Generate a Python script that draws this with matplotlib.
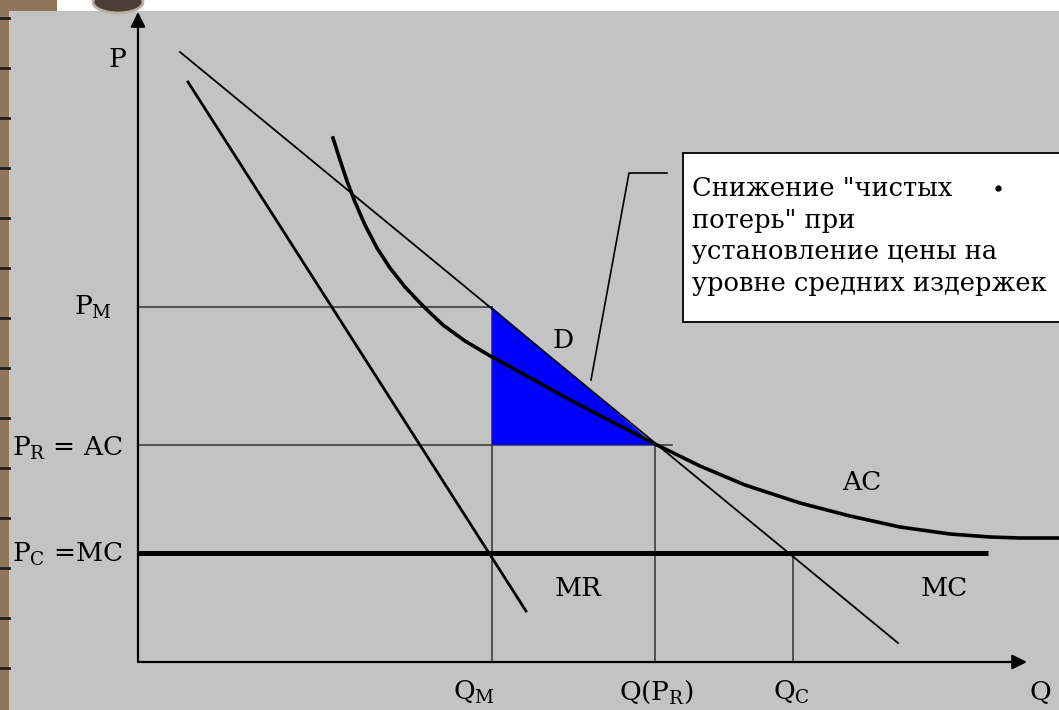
import numpy as np
import matplotlib
matplotlib.use("Agg")
import matplotlib.pyplot as plt
from matplotlib.patches import Rectangle, Ellipse, Polygon

plt.rcParams['font.family'] = ['DejaVu Serif']
plt.rcParams['mathtext.fontset'] = 'dejavuserif'

# demand and marginal revenue (straight lines, end points)
demand_q = [4.2, 76.0]
demand_p = [61.0, 1.9]
mr_q = [5.0, 38.8]
mr_p = [58.0, 5.1]

# average cost curve
ac_q = [19.5, 20.2, 20.9, 21.7, 22.7, 23.9, 25.2, 26.7, 28.5, 30.5, 32.7, 35.4, 39.2,
        43.2, 47.2, 51.7, 56.2, 60.7, 66.2, 71.2, 76.2, 81.2, 85.2, 88.2, 92.1]
ac_p = [52.4, 50.2, 48.1, 46.0, 43.7, 41.4, 39.4, 37.5, 35.6, 33.7, 32.1, 30.5, 28.4,
        26.2, 24.1, 21.8, 19.6, 17.7, 15.9, 14.6, 13.5, 12.8, 12.5, 12.4, 12.4]

# key levels
p_m, p_r, p_c = 35.5, 21.7, 10.9
q_m, q_r, q_c = 35.4, 51.7, 65.5
mc_end = 85.0
pr_end = 53.4
q_axis_end, p_axis_end = 88.9, 65.0

note_lines = ['Снижение "чистых',
              'потерь" при',
              'установление цены на',
              'уровне средних издержек']

fig = plt.figure(figsize=(10.59, 7.10), dpi=100)
fig.patch.set_facecolor('#c3c3c3')

# frame decoration: white strip on top, brown ruler on the left
W, H = 1059, 710
fig.patches.append(Rectangle((0, 1 - 11 / H), 1, 11 / H, transform=fig.transFigure,
                             facecolor='white', edgecolor='none', zorder=0))
fig.patches.append(Rectangle((0, 0), 9 / W, 1, transform=fig.transFigure,
                             facecolor='#8f7559', edgecolor='none', zorder=0))
fig.patches.append(Rectangle((0, 1 - 11 / H), 57 / W, 11 / H, transform=fig.transFigure,
                             facecolor='#8f7559', edgecolor='none', zorder=0))
fig.patches.append(Ellipse((118 / W, 1 - 2 / H), 50 / W, 22 / H, transform=fig.transFigure,
                           facecolor='#4a4036', edgecolor='#b8b0a0', lw=2, zorder=0))
for yy in np.arange(18, H, 50):
    fig.lines.append(plt.Line2D([0, 9 / W], [1 - yy / H, 1 - yy / H], transform=fig.transFigure,
                                color='#1e1e1e', lw=2))

ax = fig.add_axes([0, 0, 1, 1])
ax.set_xlim(-13.8, 92.1)
ax.set_ylim(-4.8, 66.2)
ax.axis('off')

# shaded triangle
ax.add_patch(Polygon([[q_m, p_m], [q_m, p_r], [q_r, p_r]], closed=True,
                     facecolor='#0000ff', edgecolor='none', zorder=2))

# guide lines
g = dict(color='#333333', lw=1.1, zorder=1)
ax.plot([0, q_m], [p_m, p_m], **g)
ax.plot([0, pr_end], [p_r, p_r], **g)
ax.plot([q_m, q_m], [0, p_m], **g)
ax.plot([q_r, q_r], [0, p_r], **g)
ax.plot([q_c, q_c], [0, p_c], **g)

# curves
ax.plot(demand_q, demand_p, color='black', lw=1.3, zorder=3)
ax.plot(mr_q, mr_p, color='black', lw=2.0, zorder=3)
ax.plot(ac_q, ac_p, color='black', lw=2.6, zorder=3, solid_joinstyle='round')
ax.plot([0, mc_end], [p_c, p_c], color='black', lw=3.6, zorder=3, solid_capstyle='butt')

# axes with arrows
ax.annotate('', xy=(0, p_axis_end), xytext=(0, 0),
            arrowprops=dict(arrowstyle='-|>', color='black', lw=1.6, mutation_scale=22,
                            shrinkA=0, shrinkB=0), zorder=4)
ax.annotate('', xy=(q_axis_end, 0), xytext=(0, 0),
            arrowprops=dict(arrowstyle='-|>', color='black', lw=1.6, mutation_scale=22,
                            shrinkA=0, shrinkB=0), zorder=4)

fs = 19
ax.text(-2.1, 59.5, 'P', fontsize=fs, ha='center', va='baseline')
ax.text(-2.6, 34.7, r'P$_\mathregular{M}$', fontsize=fs, ha='right', va='baseline')
ax.text(-12.6, 20.6, r'P$_\mathregular{R}$ = AC', fontsize=fs, ha='left', va='baseline')
ax.text(-12.6, 10.0, r'P$_\mathregular{C}$ =MC', fontsize=fs, ha='left', va='baseline')

ax.text(33.6, -3.8, r'Q$_\mathregular{M}$', fontsize=fs, ha='center', va='baseline')
ax.text(51.8, -3.8, r'Q(P$_\mathregular{R}$)', fontsize=fs, ha='center', va='baseline')
ax.text(65.3, -3.8, r'Q$_\mathregular{C}$', fontsize=fs, ha='center', va='baseline')
ax.text(90.2, -3.8, 'Q', fontsize=fs, ha='center', va='baseline')

ax.text(42.5, 32.2, 'D', fontsize=fs, ha='center', va='center')
ax.text(72.4, 17.9, 'AC', fontsize=fs, ha='center', va='center')
ax.text(44.0, 7.4, 'MR', fontsize=fs, ha='center', va='center')
ax.text(80.6, 7.4, 'MC', fontsize=fs, ha='center', va='center')

# callout
ax.plot([45.3, 49.1, 52.9], [28.2, 48.9, 48.9], color='black', lw=1.2, zorder=3)
ax.add_patch(Rectangle((54.5, 34.0), 40, 16.9, facecolor='white', edgecolor='black',
                       lw=1.3, zorder=3))
for i, line in enumerate(note_lines):
    ax.text(55.4, 47.4 - i * 3.2, line, fontsize=18.5, ha='left', va='center', zorder=4)
ax.plot([86.0], [47.4], 'o', color='black', ms=3.5, zorder=4)

fig.savefig('out.png', dpi=100, facecolor=fig.get_facecolor())
